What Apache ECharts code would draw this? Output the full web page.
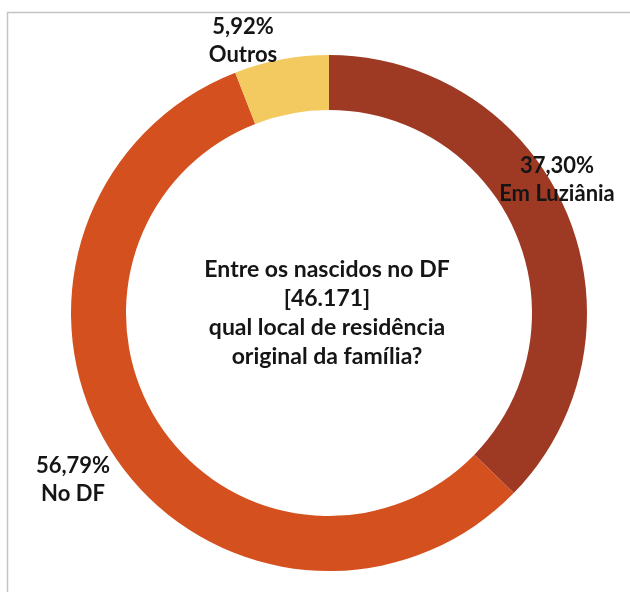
<!DOCTYPE html>
<html>
<head>
<meta charset="utf-8">
<script src="https://cdn.jsdelivr.net/npm/echarts@6/dist/echarts.min.js"></script>
<style>
  html, body { margin: 0; padding: 0; background: #fff; }
  #chart { width: 630px; height: 592px; }
</style>
</head>
<body>
<div id="chart"></div>
<script>
// fatias do anel, sentido horário a partir do topo
const categories = ['Em Luziânia', 'No DF', 'Outros']
const values = [37.30, 56.79, 5.92]
const colors = ['#9e3a24', '#d4511f', '#f2ca60']
const centerText = ['Entre os nascidos no DF', '[46.171]', 'qual local de residência', 'original da família?']

// posição dos rótulos (centro do bloco de texto)
const labelPos = [[557, 180], [73, 480], [243, 41]]

const chart = echarts.init(document.getElementById('chart'))
chart.setOption({
    animation: false,
    graphic: [
        {
            type: 'rect',
            shape: { x: 7.5, y: 12.5, width: 700, height: 700 },
            style: { fill: 'none', stroke: '#c4c4c4', lineWidth: 1.5 },
            silent: true
        },
        {
            type: 'text',
            x: 327,
            y: 313,
            silent: true,
            style: {
                text: centerText.join('\n'),
                align: 'center',
                verticalAlign: 'middle',
                font: 'bold 23px Lato',
                lineHeight: 29,
                fill: '#151515'
            }
        }
    ],
    series: [
        {
            type: 'pie',
            radius: [203, 258],
            center: [329, 313],
            startAngle: 90,
            clockwise: true,
            silent: true,
            avoidLabelOverlap: false,
            data: categories.map((name, i) => ({
                name: name,
                value: values[i],
                itemStyle: { color: colors[i] }
            })),
            label: {
                show: true,
                position: 'outside',
                alignTo: 'none',
                overflow: 'none',
                formatter: p => p.value.toFixed(2).replace('.', ',') + '%\n' + p.name,
                fontFamily: 'Lato',
                fontWeight: 'bold',
                fontSize: 22,
                lineHeight: 28,
                color: '#151515',
                align: 'center'
            },
            labelLine: { show: false },
            labelLayout: params => ({
                x: labelPos[params.dataIndex][0],
                y: labelPos[params.dataIndex][1],
                align: 'center',
                verticalAlign: 'middle',
                hideOverlap: false
            })
        }
    ]
})
</script>
</body>
</html>
